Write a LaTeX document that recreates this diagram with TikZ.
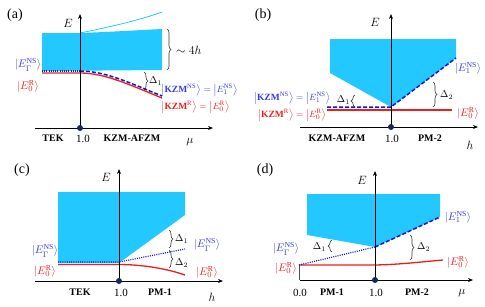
\documentclass[tikz,border=0pt]{standalone}
\usepackage{fontspec}
\setmainfont{Liberation Serif}
\usetikzlibrary{decorations.pathreplacing,arrows.meta}
\definecolor{band}{RGB}{34,200,255}
\definecolor{kblue}{RGB}{50,60,220}
\definecolor{kred}{RGB}{235,30,30}
\definecolor{dblue}{RGB}{20,20,210}
\definecolor{dotc}{RGB}{20,40,90}
\tikzset{
  axis/.style={line width=0.8pt,-{Stealth[length=5pt,width=4pt]}},
  dotm/.style={circle,fill=dotc,inner sep=0pt,minimum size=6pt},
  phase/.style={font=\bfseries\fontsize{10}{11}\selectfont,inner sep=0pt},
  tick/.style={font=\fontsize{11}{12}\selectfont,inner sep=0pt},
  plab/.style={font=\fontsize{14}{15}\selectfont,inner sep=0pt},
  alab/.style={font=\fontsize{12}{13}\selectfont,inner sep=0pt},
  bl/.style={text=kblue,font=\fontsize{11}{12}\selectfont,inner sep=0pt},
  rl/.style={text=kred,font=\fontsize{11}{12}\selectfont,inner sep=0pt},
  bls/.style={text=kblue,font=\fontsize{9.5}{10}\selectfont,inner sep=0pt},
  rls/.style={text=kred,font=\fontsize{9.5}{10}\selectfont,inner sep=0pt},
  redl/.style={kred,line width=1.3pt},
  bdash/.style={dblue,line width=1.5pt,dash pattern=on 4pt off 2pt},
  bdot/.style={dblue,line width=1.2pt,dash pattern=on 1pt off 1.2pt},
  brc/.style={decorate,decoration={brace,amplitude=4pt},line width=0.6pt,black!80},
  dlab/.style={font=\fontsize{10}{11}\selectfont,inner sep=0pt}
}
\newcommand{\kt}[1]{\bigl|#1\bigr\rangle}
\newcommand{\ketNSG}{$\kt{E_{\Gamma}^{\mathrm{NS}}}$}
\newcommand{\ketNSone}{$\kt{E_{1}^{\mathrm{NS}}}$}
\newcommand{\ketR}{$\kt{E_{0}^{\mathrm{R}}}$}
\newcommand{\kzmNS}{$\kt{\mathbf{KZM}^{\mathrm{NS}}}=\kt{E_{1}^{\mathrm{NS}}}$}
\newcommand{\kzmR}{$\kt{\mathbf{KZM}^{\mathrm{R}}}=\kt{E_{0}^{\mathrm{R}}}$}
\begin{document}
\begin{tikzpicture}[x=1pt,y=-1pt]
\useasboundingbox (0,0) rectangle (485,306);
% ================= (a)
\node[plab] (pa) at (15,15) {(a)};
\fill[band] (42,33) -- (80,33) .. controls (110,32) and (140,30) .. (162,29) -- (162,70) -- (42,71) -- cycle;
\draw[band,line width=0.8pt] (80,33) .. controls (110,27) and (140,20) .. (162,12);
\draw[redl] (42,73) -- (80,73) .. controls (105,73) and (130,85) .. (162,98);
\draw[bdot] (42,71) -- (80,71);
\draw[bdash] (80,71) .. controls (105,71) and (130,83) .. (162,96);
\draw[brc] (167,29) -- (167,70);
\node[alab,anchor=west] (a4h) at (176,50) {$\sim 4h$};
\draw[brc] (144,72) -- (144,90);
\node[dlab,anchor=west] (ad1) at (149,81) {$\Delta_1$};
\node[bl] (aL1) at (28,65) {\ketNSG};
\node[rl] (aL2) at (28,86) {\ketR};
\node[bls,anchor=west] (aR1) at (161,90) {\kzmNS};
\node[rls,anchor=west] (aR2) at (161,107) {\kzmR};
\coordinate (aO) at (80,128);
\coordinate (aX0) at (35,128);
\coordinate (aX1) at (213,128);
\coordinate (aY1) at (80,14);
\draw[axis] (aX0) -- (aX1);
\draw[axis] (aO) -- (aY1);
\node[dotm] (adot) at (aO) {};
\node[alab] (aE) at (68,23) {$E$};
\node[phase] (aTEK) at (53,138) {TEK};
\node[tick] (a10) at (83,139) {1.0};
\node[phase] (aKZ) at (132,138) {KZM-AFZM};
\node[alab] (amu) at (190,142) {$\mu$};
% ================= (b)
\node[plab] (pb) at (263,15) {(b)};
\fill[band] (330,39) -- (456,39) -- (456,58) -- (391,107) -- (330,73) -- cycle;
\draw[redl] (327,110) -- (452,110);
\draw[bdash] (327,107) -- (391,107) -- (456,58);
\draw[brc] (355,107) -- (355,95);
\node[dlab,anchor=east] (bd1) at (350,100) {$\Delta_1$};
\draw[brc] (433,82) -- (433,107);
\node[dlab,anchor=west] (bd2) at (440,95) {$\Delta_2$};
\node[bls] (bL1) at (292,98) {\kzmNS};
\node[rls] (bL2) at (292,115) {\kzmR};
\node[bl] (bR1) at (468,68) {\ketNSone};
\node[rl] (bR2) at (468,113) {\ketR};
\coordinate (bO) at (391,127);
\coordinate (bX0) at (300,127);
\coordinate (bX1) at (478,127);
\coordinate (bY1) at (391,14);
\draw[axis] (bX0) -- (bX1);
\draw[axis] (bO) -- (bY1);
\node[dotm] (bdot) at (bO) {};
\node[alab] (bE) at (375,22) {$E$};
\node[phase] (bKZ) at (337,138) {KZM-AFZM};
\node[tick] (b10) at (392,139) {1.0};
\node[phase] (bPM) at (430,138) {PM-2};
\node[alab] (bh) at (470,145) {$h$};
% ================= (c)
\node[plab] (pc) at (22,170) {(c)};
\fill[band] (58,192) -- (185,192) -- (185,215) -- (119,263) -- (58,263) -- cycle;
\draw[redl] (58,264.5) -- (119,264.5) .. controls (140,264.5) and (165,268) .. (185,275);
\draw[bdot] (58,262) -- (119,262) -- (185,249);
\draw[brc] (169,230) -- (169,248);
\node[dlab,anchor=west] (cd1) at (175,239) {$\Delta_1$};
\draw[brc] (169,250) -- (169,268);
\node[dlab,anchor=west] (cd2) at (175,263) {$\Delta_2$};
\node[bl] (cL1) at (45,251) {\ketNSG};
\node[rl] (cL2) at (45,271) {\ketR};
\node[bl] (cR1) at (207,245) {\ketNSG};
\node[rl] (cR2) at (207,272) {\ketR};
\coordinate (cO) at (119,281);
\coordinate (cX0) at (35,281);
\coordinate (cX1) at (223,281);
\coordinate (cY1) at (119,169);
\draw[axis] (cX0) -- (cX1);
\draw[axis] (cO) -- (cY1);
\node[dotm] (cdot) at (cO) {};
\node[alab] (cE) at (106,177) {$E$};
\node[phase] (cTEK) at (80,292) {TEK};
\node[tick] (c10) at (121,293) {1.0};
\node[phase] (cPM) at (160,292) {PM-1};
\node[alab] (ch) at (212,297) {$h$};
% ================= (d)
\node[plab] (pd) at (265,170) {(d)};
\fill[band] (307,194) -- (440,194) -- (440,217) -- (375,247) -- (307,235) -- cycle;
\draw[black!70,line width=0.5pt] (299,265) -- (299,280);
\draw[redl] (299,265) -- (375,265) .. controls (400,264.5) and (420,262) .. (443,260);
\draw[bdot] (299,265) -- (375,247);
\draw[bdash] (375,247) -- (440,217);
\draw[brc] (332,252) -- (332,240);
\node[dlab,anchor=east] (dd1) at (326,247) {$\Delta_1$};
\draw[brc] (410,235) -- (410,260);
\node[dlab,anchor=west] (dd2) at (417,247) {$\Delta_2$};
\node[bl] (dL1) at (286,249) {\ketNSG};
\node[rl] (dL2) at (286,268) {\ketR};
\node[bl] (dR1) at (458,217) {\ketNSone};
\node[rl] (dR2) at (458,262) {\ketR};
\coordinate (dO) at (375,280);
\coordinate (dX0) at (300,280);
\coordinate (dX1) at (473,280);
\coordinate (dY1) at (375,171);
\draw[axis] (dX0) -- (dX1);
\draw[axis] (dO) -- (dY1);
\node[dotm] (ddot) at (dO) {};
\node[alab] (dE) at (362,180) {$E$};
\node[tick] (d00) at (300,293) {0.0};
\node[phase] (dPM1) at (332,292) {PM-1};
\node[tick] (d10) at (376,293) {1.0};
\node[phase] (dPM2) at (417,292) {PM-2};
\node[alab] (dmu) at (462,293) {$\mu$};
\end{tikzpicture}
\end{document}
